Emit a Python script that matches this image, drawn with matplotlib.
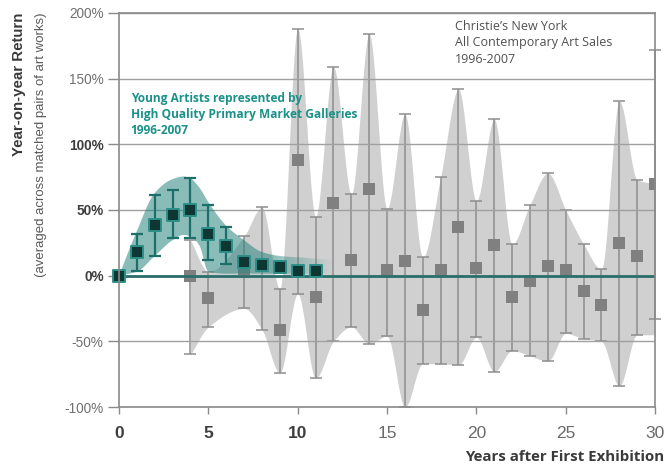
import numpy as np
import matplotlib
matplotlib.use("Agg")
import matplotlib.pyplot as plt

# Young artists (primary market galleries): mean return and error range per year
teal_years = [0, 1, 2, 3, 4, 5, 6, 7, 8, 9, 10, 11]
teal_mean = [0, 18, 38.5, 46.5, 50, 32, 22.5, 10.5, 8, 6.5, 3.5, 3.5]
teal_lo = [0, 3.5, 15, 28.5, 28.5, 12, 9, 10.5, 8, 6.5, 3.5, 3.5]
teal_hi = [0, 31.5, 61.5, 65, 74, 53.5, 37, 10.5, 8, 6.5, 3.5, 3.5]

# outline of the shaded envelope around the young-artist series
teal_band_x = [0, 1, 2, 3, 3.6, 4, 4.5, 5, 6, 7, 8, 9, 10, 11, 12]
teal_band_top = [0, 34, 63, 73.5, 75.5, 74, 67, 56, 38, 27, 18, 15, 14, 13, 12]
teal_band_bottom = [0, 3, 15, 27, 31, 30, 23, 3, 1.5, 1.5, 1.5, 1.5, 1.5, 1.5, 1.5]

# Christie's New York contemporary sales: mean return and whisker ends
christie_years = [4, 5, 7, 8, 9, 10, 11, 12, 13, 14, 15, 16, 17, 18, 19, 20,
                  21, 22, 23, 24, 25, 26, 27, 28, 29, 30]
christie_mean = [0, -17, 5, 8, -41, 88, -16, 55, 12, 66, 4, 11, -26, 4, 37, 6,
                 23, -16, -4, 7, 4, -12, -22, 25, 15, 70]
christie_lo = [-60, -39, -25, -41, -74, -14, -78, -50, -39, -52, -46, -100, -67,
               -67, -68, -47, -73, -57, -61, -65, -44, -48, -50, -84, -45, -33]
christie_hi = [27, 3, 30, 52, -10, 188, 45, 159, 62, 184, 51, 123, 14, 75, 142,
               57, 119, 24, 54, 78, 50, 24, 5, 133, 73, 172]
band_end_top = 70
band_end_bottom = -45

x_ticks = [0, 5, 10, 15, 20, 25, 30]
y_ticks = [-100, -50, 0, 50, 100, 150, 200]
bold_x_ticks = [0, 5, 10]
bold_y_ticks = [0, 50, 100]

TEAL = "#2a857f"
TEAL_DARK = "#1d6f6a"
GRAY_BAND = "#d0d0d0"
GRAY_MARK = "#808080"
GRAY_BAR = "#8e8e8e"


def pchip(x, y, xs):
    """Shape-preserving cubic (Fritsch-Carlson) through the given knots."""
    x = np.asarray(x, float)
    y = np.asarray(y, float)
    h = np.diff(x)
    d = np.diff(y) / h
    n = len(x)
    m = np.zeros(n)
    for k in range(1, n - 1):
        if d[k - 1] * d[k] > 0:
            w1 = 2 * h[k] + h[k - 1]
            w2 = h[k] + 2 * h[k - 1]
            m[k] = (w1 + w2) / (w1 / d[k - 1] + w2 / d[k])
    m[0] = d[0]
    m[-1] = d[-1]
    xs = np.asarray(xs, float)
    idx = np.clip(np.searchsorted(x, xs) - 1, 0, n - 2)
    t = (xs - x[idx]) / h[idx]
    h00 = 2 * t**3 - 3 * t**2 + 1
    h10 = t**3 - 2 * t**2 + t
    h01 = -2 * t**3 + 3 * t**2
    h11 = t**3 - t**2
    return (h00 * y[idx] + h10 * h[idx] * m[idx]
            + h01 * y[idx + 1] + h11 * h[idx] * m[idx + 1])


fig = plt.figure(figsize=(6.66, 4.72), dpi=100)
ax = fig.add_axes([0.1787, 0.1377, 0.8048, 0.8348])

# --- Christie's envelope, whiskers and means ---
band_top = list(christie_hi[:-1]) + [band_end_top]
band_bottom = list(christie_lo[:-1]) + [band_end_bottom]
xs = np.linspace(christie_years[0], christie_years[-1], 1200)
ax.fill_between(xs, pchip(christie_years, band_bottom, xs),
                pchip(christie_years, band_top, xs),
                color=GRAY_BAND, lw=0, zorder=1)

cm = np.array(christie_mean, float)
ax.errorbar(christie_years, cm,
            yerr=[cm - np.array(christie_lo), np.array(christie_hi) - cm],
            fmt="none", ecolor=GRAY_BAR, elinewidth=1.1, capsize=4,
            capthick=1.1, zorder=2, clip_on=False)
ax.scatter(christie_years, cm, marker="s", s=72, color=GRAY_MARK,
           lw=0, zorder=2.5)

# --- young-artist envelope with a fade towards later years ---
txs = np.linspace(teal_band_x[0], teal_band_x[-1], 600)
env = ax.fill_between(txs, pchip(teal_band_x, teal_band_bottom, txs),
                      pchip(teal_band_x, teal_band_top, txs),
                      facecolor="none", lw=0, zorder=3)
gx = np.linspace(0, 12.5, 400)
alpha = np.clip((12.0 - gx) / (12.0 - 8.5), 0, 1) * 0.55
rgb = matplotlib.colors.to_rgb(TEAL)
grad = np.zeros((1, gx.size, 4))
grad[0, :, 0:3] = rgb
grad[0, :, 3] = alpha
im = ax.imshow(grad, extent=[0, 12.5, -5, 90], aspect="auto",
               origin="lower", interpolation="bilinear", zorder=3)
im.set_clip_path(env.get_paths()[0], transform=ax.transData)

ax.plot([0, 30], [0, 0], color="#2a6f6c", lw=2, zorder=3.5,
        solid_capstyle="butt")

tm = np.array(teal_mean, float)
tlo = tm - np.array(teal_lo)
thi = np.array(teal_hi) - tm
has_bar = (tlo + thi) > 0
ax.errorbar(np.array(teal_years)[has_bar], tm[has_bar],
            yerr=[tlo[has_bar], thi[has_bar]], fmt="none", ecolor=TEAL_DARK,
            elinewidth=1.6, capsize=4.5, capthick=1.6, zorder=4)
ax.scatter(teal_years, tm, marker="s", s=66, facecolor="#0e3633",
           edgecolor="#2b8f88", linewidths=1.4, zorder=5, clip_on=False)

# --- axes styling ---
ax.set_xlim(0, 30)
ax.set_ylim(-100, 200)
ax.set_xticks(x_ticks)
ax.set_yticks(y_ticks)
ax.set_yticklabels([f"{v}%" for v in y_ticks])
ax.yaxis.grid(True, color="#a0a0a0", lw=1, zorder=1.5)
ax.set_axisbelow(False)
for gl in ax.get_ygridlines():
    gl.set_zorder(1.5)
for sp in ax.spines.values():
    sp.set_color("#8a8a8a")
    sp.set_linewidth(1.2)
    sp.set_zorder(6)
ax.tick_params(axis="x", direction="out", length=5, width=1, color="#8a8a8a",
               pad=9)
ax.tick_params(axis="y", direction="out", length=8, width=1, color="#8a8a8a",
               pad=3)

for lab, v in zip(ax.get_xticklabels(), x_ticks):
    lab.set_fontfamily("Liberation Sans")
    lab.set_fontsize(12.5)
    if v in bold_x_ticks:
        lab.set_fontweight("bold")
        lab.set_color("#3e3e3e")
    else:
        lab.set_color("#6a6a6a")
for lab, v in zip(ax.get_yticklabels(), y_ticks):
    lab.set_fontfamily("Liberation Sans")
    lab.set_fontsize(9.8)
    if v in bold_y_ticks:
        lab.set_fontweight("bold")
        lab.set_color("#3e3e3e")
    else:
        lab.set_color("#707070")

# --- titles and annotations ---
fig.text(0.997, 0.018, "Years after First Exhibition", ha="right",
         va="bottom", fontsize=10.8, fontweight="bold", color="#3a3a3a",
         family=["Open Sans", "DejaVu Sans"])
fig.text(0.028, 0.9725, "Year-on-year Return", rotation=90, ha="center",
         va="top", fontsize=10.8, fontweight="bold", color="#3a3a3a",
         family=["Liberation Sans Narrow", "Liberation Sans"])
fig.text(0.062, 0.9725, "(averaged across matched pairs of art works)",
         rotation=90, ha="center", va="top", fontsize=9.5, color="#5a5a5a",
         family=["Liberation Sans Narrow", "Liberation Sans"])

ax.text(18.8, 195, "Christie\u2019s New York\nAll Contemporary Art Sales\n1996-2007",
        ha="left", va="top", fontsize=9, color="#505050", linespacing=1.35,
        family=["Open Sans", "DejaVu Sans"], zorder=7)
ax.text(0.65, 140, "Young Artists represented by\nHigh Quality Primary Market Galleries\n1996-2007",
        ha="left", va="top", fontsize=8.6, fontweight="bold", color="#1a9189",
        linespacing=1.3, family=["Open Sans", "DejaVu Sans"], zorder=7)

fig.savefig("out.png", dpi=100)
